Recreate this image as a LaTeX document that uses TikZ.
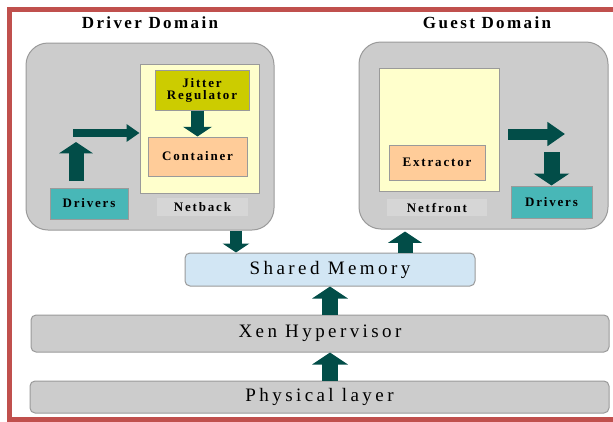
\documentclass[tikz,border=0pt]{standalone}
\usepackage{fontspec}
\setmainfont{Liberation Serif}
\usepackage{xcolor}
\usetikzlibrary{arrows.meta,positioning,calc}
\definecolor{framered}{HTML}{C0504D}
\definecolor{domaingray}{HTML}{CCCCCC}
\definecolor{edgegray}{HTML}{9A9A9A}
\definecolor{paleyellow}{HTML}{FFFFCC}
\definecolor{jitterolive}{HTML}{CCCC00}
\definecolor{peach}{HTML}{FFCC99}
\definecolor{drvteal}{HTML}{48B7B7}
\definecolor{arrowteal}{HTML}{024D48}
\definecolor{memblue}{HTML}{D2E6F4}
\definecolor{tagGray}{HTML}{D6D6D6}
\tikzset{
  domainbox/.style={draw=edgegray, fill=domaingray, rounded corners=22pt, line width=1pt},
  domaintitle/.style={font=\fontsize{17}{19}\selectfont\bfseries\addfontfeature{LetterSpace=14}},
  layerbox/.style={draw=edgegray, fill=domaingray, rounded corners=5pt, line width=1pt, font=\fontsize{19}{21}\selectfont\addfontfeature{LetterSpace=18}},
  innerbox/.style={draw=edgegray, line width=1pt, align=center, font=\fontsize{13}{14}\selectfont\bfseries\addfontfeature{LetterSpace=14}},
  tagbox/.style={fill=tagGray, font=\fontsize{13}{14}\selectfont\bfseries\addfontfeature{LetterSpace=14}},
  blockarrow/.style={draw=arrowteal, line width=#1, -{Triangle[width=0pt 2.2, length=0pt 0.75]}},
  blockarrow/.default=13pt,
  longtip/.style={-{Triangle[width=0pt 2.1, length=0pt 1.6]}}
}

\begin{document}
\begin{tikzpicture}[x=1pt, y=-1pt]
  \useasboundingbox (0,0) rectangle (613,421);
  \clip (0,0) rectangle (613,421);
  \draw[framered, line width=5pt] (9.5,9.5) rectangle (660,419.5);

  % domains
  \node[domaintitle] (ddTitle) at (150,23) {Driver Domain};
  \node[domaintitle] (gdTitle) at (487,23) {Guest Domain};
  \node[domainbox, minimum width=248, minimum height=187] (dd) at (150,136.5) {};
  \node[domainbox, minimum width=249, minimum height=187] (gd) at (483.5,135.5) {};

  % driver domain
  \node[innerbox, fill=paleyellow, minimum width=119, minimum height=129] (netback) at (199.5,128.5) {};
  \node[innerbox, fill=jitterolive, minimum width=94, minimum height=40, inner sep=1pt] (jitter) at (202,90) {Jitter\\[-2pt]Regulator};
  \node[innerbox, fill=peach, minimum width=99, minimum height=39] (container) at (197.5,156.5) {Container};
  \node[tagbox, minimum width=91, minimum height=18, inner sep=0pt] (netbackTag) at (202.5,207) {Netback};
  \node[innerbox, fill=drvteal, minimum width=78, minimum height=31] (drvL) at (89,203.5) {Drivers};

  % guest domain
  \node[innerbox, fill=paleyellow, minimum width=120, minimum height=123] (netfront) at (439,129.5) {};
  \node[innerbox, fill=peach, minimum width=96, minimum height=35] (extractor) at (437,162.5) {Extractor};
  \node[tagbox, minimum width=100, minimum height=17, inner sep=0pt] (netfrontTag) at (437,207.5) {Netfront};
  \node[innerbox, fill=drvteal, minimum width=81, minimum height=32] (drvR) at (551.5,202) {Drivers};

  % layers
  \node[layerbox, fill=memblue, minimum width=290, minimum height=33] (shared) at (330,269.5) {Shared Memory};
  \node[layerbox, minimum width=578, minimum height=37] (xen) at (320,333.5) {Xen Hypervisor};
  \node[layerbox, minimum width=579, minimum height=32] (phys) at (319.5,397) {Physical layer};

  \coordinate (upL) at (76,181);
  \coordinate (feedL) at (73,133);
  \coordinate (feedR) at (508,134);
  \coordinate (tapL) at (236,0);
  \coordinate (tapR) at (405,0);

  \draw[blockarrow] (container.north |- jitter.south) -- (container.north);
  \draw[blockarrow=15pt] (upL) -- ++(0,-39);
  \draw[blockarrow=8pt, longtip] (feedL) -- (feedL -| netback.west);
  \draw[blockarrow=11pt, longtip] (feedR) -- ++(57,0);
  \draw[blockarrow=16pt] (drvR.north |- 0,152) -- (drvR.north);
  \draw[blockarrow=12pt] (dd.south -| tapL) -- (shared.north -| tapL);
  \draw[blockarrow=15pt] (shared.north -| tapR) -- ($(gd.south -| tapR)+(0,2)$);
  \draw[blockarrow=16pt] (xen.north -| shared.south) -- (shared.south);
  \draw[blockarrow=16pt] (phys.north -| shared.south) -- (xen.south -| shared.south);
\end{tikzpicture}
\end{document}
